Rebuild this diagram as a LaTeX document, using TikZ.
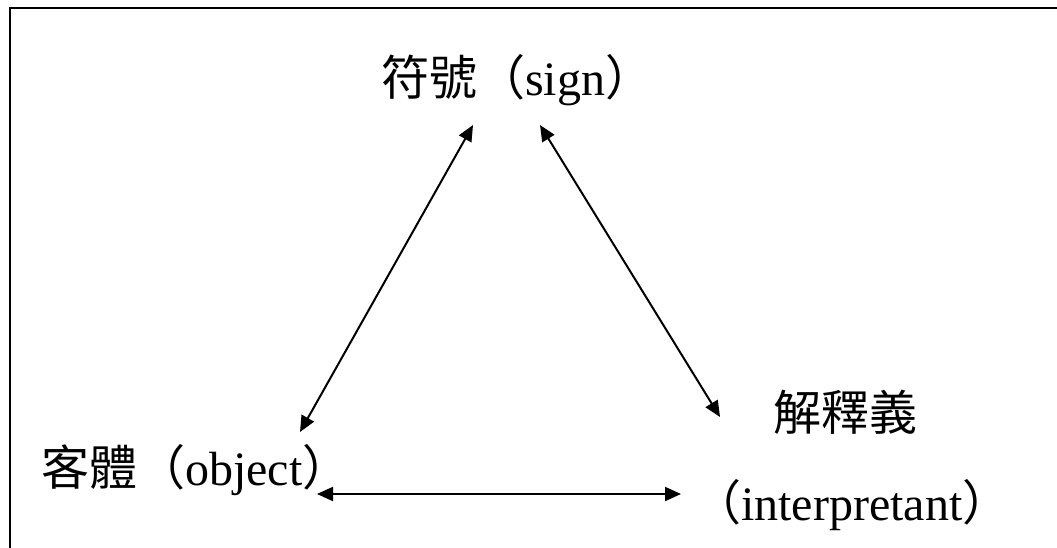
\documentclass[tikz,border=0pt]{standalone}
\usepackage{fontspec}
\setmainfont{Liberation Serif}
\newfontfamily\cjk{Noto Sans CJK TC}
\usetikzlibrary{arrows.meta}

\begin{document}
\begin{tikzpicture}[x=1pt,y=-1pt,
  lbl/.style={font=\fontsize{48}{56}\selectfont,inner sep=0pt,anchor=base west},
  dbl/.style={{Triangle[length=16pt,width=14pt]}-{Triangle[length=16pt,width=14pt]},line width=2pt}]
 \useasboundingbox (0,0) rectangle (1057,548);
 \begin{scope}
  \clip (0,0) rectangle (1057,548);
  \draw[line width=2pt] (10,8) rectangle (1080,570);
 \end{scope}

  \draw (381,96) node[lbl] (sign) {{\cjk 符號（}sign{\cjk ）}};
  \draw (41,485) node[lbl] (object) {{\cjk 客體（}object{\cjk ）}};
  \draw (773,430) node[lbl] (interp) {\cjk 解釋義};
  \draw (693,520) node[lbl] (interpname) {{\cjk （}interpretant{\cjk ）}};

  % arrow ends
  \coordinate (sign-l) at (473,125);
  \coordinate (sign-r) at (540,125);
  \coordinate (object-t) at (300,432);
  \coordinate (object-r) at (317,494);
  \coordinate (interp-l) at (720,417);
  \coordinate (interpname-l) at (681,494);

     \path[dbl] (sign-l) edge (object-t);
     \path[dbl] (sign-r) edge (interp-l);
     \path[dbl] (object-r) edge (interpname-l);
\end{tikzpicture}
\end{document}
